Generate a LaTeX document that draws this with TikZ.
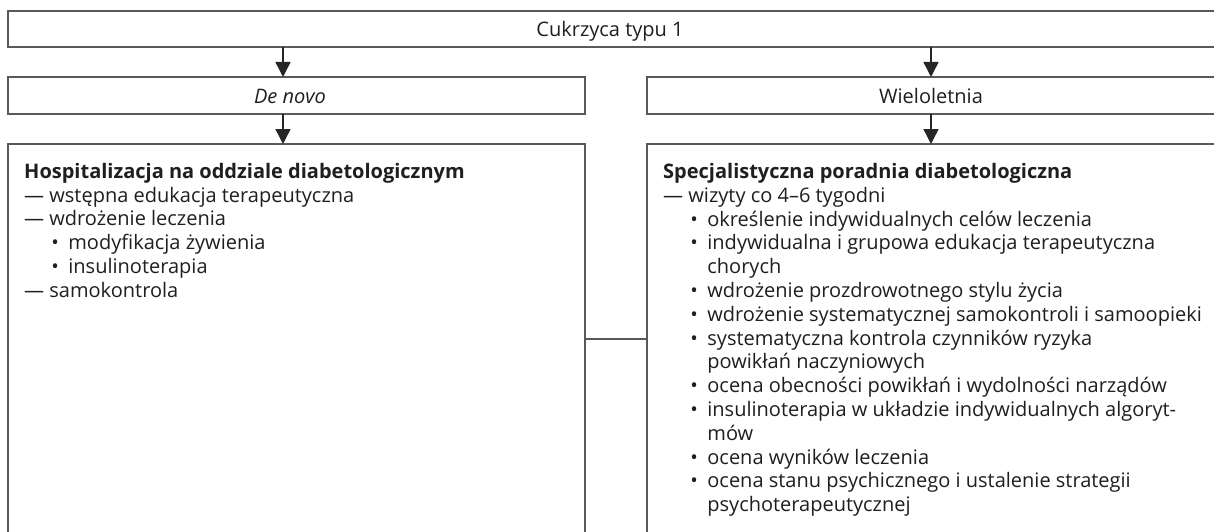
\documentclass[tikz,border=0pt]{standalone}
\usepackage{fontspec}
\setmainfont{Open Sans}
\usetikzlibrary{arrows.meta}
\newcommand\dashit{—\ }
\newcommand\bulit{\hphantom{—\ }\makebox[19pt][l]{\hspace{2pt}•}}
\newcommand\contit{\hphantom{—\ }\hspace{19pt}}
\begin{document}
\begin{tikzpicture}[x=1pt,y=-1pt,
  boxline/.style={draw=black!65, line width=1.4pt},
  frame/.style={boxline, anchor=north west, inner sep=0pt, outer sep=0pt},
  arr/.style={draw=black!72, line width=1.4pt, -{Triangle[width=15pt,length=15pt]}, color=black!85},
  lbl/.style={font=\fontsize{20}{23.8}\selectfont, text=black!88, inner sep=0pt, anchor=base},
  txt/.style={font=\fontsize{20}{23.8}\selectfont, text=black!88, inner sep=0pt, anchor=north west, align=left}]
\useasboundingbox (0,0) rectangle (1214,532);
\clip (0,0) rectangle (1214,532);
\fill[white] (0,0) rectangle (1214,532);
% boxes
\node[frame, minimum width=1217pt, minimum height=36pt] (top) at (8,11) {};
\node[frame, minimum width=577pt, minimum height=37pt] (denovo) at (8,77) {};
\node[frame, minimum width=578pt, minimum height=37pt] (wielo) at (647,77) {};
\node[frame, minimum width=577pt, minimum height=401pt] (hosp) at (8,144) {};
\node[frame, minimum width=578pt, minimum height=401pt] (spec) at (647,144) {};
% labels
\node[lbl] (ttop) at (610,36.5) {Cukrzyca typu 1};
\node[lbl] (tdenovo) at (290,103.5) {\itshape De novo};
\node[lbl] (twielo) at (931,103.5) {Wieloletnia};
\node[txt] (thosp) at (24,163) {\textbf{Hospitalizacja na oddziale diabetologicznym}\\
\dashit wstępna edukacja terapeutyczna\\
\dashit wdrożenie leczenia\\
\bulit modyfikacja żywienia\\
\bulit insulinoterapia\\
\dashit samokontrola};
\node[txt] (tspec) at (663,163) {\textbf{Specjalistyczna poradnia diabetologiczna}\\
\dashit wizyty co 4–6 tygodni\\
\bulit określenie indywidualnych celów leczenia\\
\bulit indywidualna i grupowa edukacja terapeutyczna\\
\contit chorych\\
\bulit wdrożenie prozdrowotnego stylu życia\\
\bulit wdrożenie systematycznej samokontroli i samoopieki\\
\bulit systematyczna kontrola czynników ryzyka\\
\contit powikłań naczyniowych\\
\bulit ocena obecności powikłań i wydolności narządów\\
\bulit insulinoterapia w układzie indywidualnych algoryt-\\
\contit mów\\
\bulit ocena wyników leczenia\\
\bulit ocena stanu psychicznego i ustalenie strategii\\
\contit psychoterapeutycznej};
% connectors
\coordinate (cl) at (283,0);
\coordinate (cr) at (931,0);
\coordinate (cy) at (0,339);
\draw[arr] (cl |- top.south) -- (cl |- denovo.north);
\draw[arr] (cr |- top.south) -- (cr |- wielo.north);
\draw[arr] (cl |- denovo.south) -- (cl |- hosp.north);
\draw[arr] (cr |- wielo.south) -- (cr |- spec.north);
\draw[boxline] (hosp.east |- cy) -- (spec.west |- cy);
\end{tikzpicture}
\end{document}
